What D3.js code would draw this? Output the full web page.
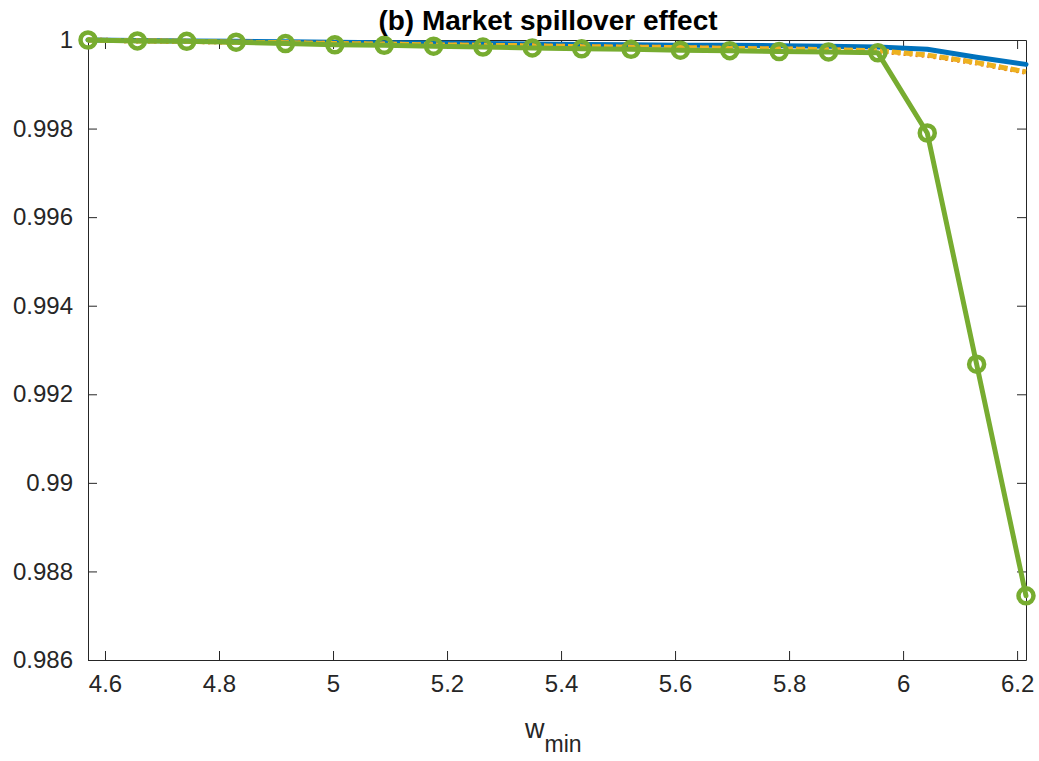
<!DOCTYPE html>
<html>
<head>
<meta charset="utf-8">
<script src="https://cdn.jsdelivr.net/npm/d3@7"></script>
<style>
  body { margin: 0; background: #fff; }
  svg { display: block; }
  text { font-family: "Liberation Sans", Arial, Helvetica, sans-serif; }
</style>
</head>
<body>
<svg id="chart" width="1039" height="761"></svg>
<script>
// Grid of minimum wage values (x axis)
const wMin = [4.5702, 4.6568, 4.7434, 4.8300, 4.9166, 5.0032, 5.0898, 5.1764, 5.2630, 5.3496,
              5.4362, 5.5228, 5.6094, 5.6960, 5.7826, 5.8692, 5.9558, 6.0424, 6.1290, 6.2156];

// Series values
const seriesBlue   = [1.00000, 0.99999, 0.99998, 0.99997, 0.99996, 0.99995, 0.99994, 0.99993, 0.99992, 0.99991,
                      0.99990, 0.99989, 0.99988, 0.99988, 0.99987, 0.99986, 0.99984, 0.99979, 0.99961, 0.99945];
const seriesRed    = [1.00000, 0.99998, 0.99997, 0.99995, 0.99994, 0.99992, 0.99991, 0.99989, 0.99988, 0.99987,
                      0.99985, 0.99984, 0.99983, 0.99981, 0.99980, 0.99978, 0.99975, 0.99965, 0.99948, 0.99927];
const seriesYellow = [1.00000, 0.99998, 0.99997, 0.99995, 0.99994, 0.99992, 0.99991, 0.99989, 0.99988, 0.99987,
                      0.99985, 0.99984, 0.99983, 0.99981, 0.99980, 0.99978, 0.99976, 0.99966, 0.99949, 0.99928];
const seriesPurple = [1.00000, 0.99998, 0.99997, 0.99995, 0.99992, 0.99989, 0.99988, 0.99986, 0.99984, 0.99982,
                      0.99980, 0.99979, 0.99977, 0.99976, 0.99974, 0.99973, 0.99971, 0.99788, 0.99266, 0.98743];
const seriesGreen  = [1.00000, 0.99998, 0.99997, 0.99995, 0.99992, 0.99989, 0.99988, 0.99986, 0.99984, 0.99982,
                      0.99980, 0.99979, 0.99977, 0.99976, 0.99974, 0.99973, 0.99971, 0.99790, 0.99268, 0.98745];

// Tick values
const xTicks = [4.6, 4.8, 5.0, 5.2, 5.4, 5.6, 5.8, 6.0, 6.2];
const yTicks = [0.986, 0.988, 0.99, 0.992, 0.994, 0.996, 0.998, 1];

const titleText = "(b) Market spillover effect";

const svg = d3.select("#chart");
const W = 1039, H = 761;
const m = { left: 88, right: 1039 - 1026, top: 40, bottom: 761 - 660 };

const x = d3.scaleLinear().domain([4.5702, 6.2156]).range([m.left, W - m.right]);
const y = d3.scaleLinear().domain([0.986, 1]).range([H - m.bottom, m.top]);

const axisColor = "#262626";
const tickLen = 9;

// Axes: bottom and left carry labels, top and right mirror the ticks
const fmt = d => String(+d.toFixed(3));

const gx = svg.append("g").attr("transform", `translate(0,${H - m.bottom})`)
  .call(d3.axisBottom(x).tickValues(xTicks).tickSizeInner(-tickLen).tickSizeOuter(0).tickPadding(15).tickFormat(fmt));
const gxt = svg.append("g").attr("transform", `translate(0,${m.top})`)
  .call(d3.axisTop(x).tickValues(xTicks).tickSizeInner(-tickLen).tickSizeOuter(0).tickFormat(""));
const gy = svg.append("g").attr("transform", `translate(${m.left},0)`)
  .call(d3.axisLeft(y).tickValues(yTicks).tickSizeInner(-tickLen).tickSizeOuter(0).tickPadding(15).tickFormat(fmt));
const gyr = svg.append("g").attr("transform", `translate(${W - m.right},0)`)
  .call(d3.axisRight(y).tickValues(yTicks).tickSizeInner(-tickLen).tickSizeOuter(0).tickFormat(""));

[gx, gxt, gy, gyr].forEach(g => {
  g.selectAll("path.domain").attr("stroke", axisColor).attr("stroke-width", 1);
  g.selectAll(".tick line").attr("stroke", axisColor).attr("stroke-width", 1);
  g.selectAll(".tick text").attr("fill", axisColor).style("font-size", "24px")
    .style("font-family", '"Liberation Sans", Arial, sans-serif');
});
gx.selectAll(".tick text").attr("dy", "0.71em");

// Lines
const line = d3.line().x((d, i) => x(wMin[i])).y(d => y(d));

const styles = [
  { data: seriesBlue,   color: "#0072BD", width: 5,   dash: null },
  { data: seriesRed,    color: "#D95319", width: 5,   dash: "2,4" },
  { data: seriesYellow, color: "#EDB120", width: 5,   dash: "9,3" },
  { data: seriesPurple, color: "#7E2F8E", width: 3,   dash: "10,4,2,4" },
  { data: seriesGreen,  color: "#77AC30", width: 5,   dash: null }
];

const plot = svg.append("g");
styles.forEach(s => {
  plot.append("path")
    .datum(s.data)
    .attr("fill", "none")
    .attr("stroke", s.color)
    .attr("stroke-width", s.width)
    .attr("stroke-linejoin", "round")
    .attr("stroke-linecap", s.dash ? "butt" : "round")
    .attr("stroke-dasharray", s.dash)
    .attr("d", line);
});

// Circle markers on the green series
plot.selectAll("circle.mk")
  .data(seriesGreen)
  .join("circle")
  .attr("class", "mk")
  .attr("cx", (d, i) => x(wMin[i]))
  .attr("cy", d => y(d))
  .attr("r", 7.5)
  .attr("fill", "none")
  .attr("stroke", "#77AC30")
  .attr("stroke-width", 4.5);

// Title
svg.append("text")
  .attr("x", 548)
  .attr("y", 30)
  .attr("text-anchor", "middle")
  .style("font-size", "28px")
  .style("font-weight", "bold")
  .attr("fill", "#000")
  .text(titleText);

// x label with subscript
const xl = svg.append("text")
  .attr("x", 525)
  .attr("y", 738)
  .style("font-size", "27px")
  .attr("fill", axisColor);
xl.append("tspan").text("w");
xl.append("tspan").attr("dy", 14).style("font-size", "23px").text("min");
</script>
</body>
</html>
